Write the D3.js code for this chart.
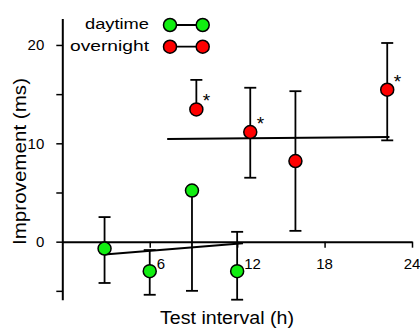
<!DOCTYPE html>
<html>
<head>
<meta charset="utf-8">
<script src="https://cdn.jsdelivr.net/npm/d3@7"></script>
<style>
  body { margin: 0; background: #fff; }
  text { font-family: "Liberation Sans", Arial, Helvetica, sans-serif; fill: #000; }
</style>
</head>
<body>
<svg width="420" height="330"></svg>
<script>
// daytime (green) group
var dayHours = [2.9, 6.0, 8.9, 12.0];
var dayMean = [-0.7, -3.0, 5.2, -3.0];
var dayUpper = [2.5, -0.85, null, 1.0];
var dayLower = [-4.2, -5.4, -5.0, -5.9];
var dayStars = ['', '', '', ''];

// overnight (red) group
var nightHours = [9.2, 12.9, 16.0, 22.3];
var nightMean = [13.45, 11.15, 8.2, 15.45];
var nightUpper = [16.45, 15.65, 15.3, 20.2];
var nightLower = [null, 6.5, 1.1, 10.3];
var nightStars = ['*', '*', '', '*'];

// fitted lines
var dayFitHours = [2.9, 12.4];
var dayFitValues = [-1.3, -0.15];
var nightFitHours = [7.2, 22.45];
var nightFitValues = [10.45, 10.65];

var xTicks = [6, 12, 18, 24];
var yTicks = [-5, 0, 5, 10, 15, 20];
var yTickLabels = ['', '0', '', '10', '', '20'];

var groups = [
    { name: 'daytime', color: '#11ee11', hours: dayHours, mean: dayMean, upper: dayUpper, lower: dayLower, stars: dayStars, fitX: dayFitHours, fitY: dayFitValues },
    { name: 'overnight', color: '#ff0000', hours: nightHours, mean: nightMean, upper: nightUpper, lower: nightLower, stars: nightStars, fitX: nightFitHours, fitY: nightFitValues }
];

var svg = d3.select('svg');
var r = 6.5;
var cap = 6;

var x = d3.scaleLinear().domain([0, 24]).range([62.3, 412]);
var y = d3.scaleLinear().domain([-5.9, 22.7]).range([299.7, 18.4]);

// y axis
var yAxis = svg.append('g')
    .attr('transform', 'translate(' + x(0) + ',0)')
    .call(d3.axisLeft(y).tickValues(yTicks).tickSize(6).tickSizeOuter(0)
        .tickFormat(function (d, i) { return yTickLabels[i]; }));
yAxis.select('.domain').attr('stroke-width', 2);
yAxis.selectAll('.tick line').attr('stroke-width', 1.5);
yAxis.selectAll('.tick text')
    .attr('x', -18)
    .style('font-size', '15px')
    .style('font-family', '"Liberation Sans", Arial, sans-serif');

// x axis sits at zero
var xAxis = svg.append('g')
    .attr('transform', 'translate(0,' + y(0) + ')')
    .call(d3.axisBottom(x).tickValues(xTicks).tickSize(6).tickSizeOuter(0).tickFormat(''));
xAxis.select('.domain').attr('stroke-width', 2);
xAxis.selectAll('.tick line').attr('stroke-width', 1.5);

// tick labels (6 and 12 are pushed right of their ticks)
svg.selectAll('.xlab')
    .data(xTicks)
    .enter()
    .append('text')
    .attr('class', 'xlab')
    .attr('x', function (d) { return d <= 12 ? x(d) + 7 : x(d); })
    .attr('y', y(0) + 27.5)
    .style('text-anchor', function (d) { return d <= 12 ? 'start' : 'middle'; })
    .style('font-size', '15px')
    .text(function (d) { return d; });

// axis titles
svg.append('text')
    .attr('x', 227)
    .attr('y', 324)
    .style('text-anchor', 'middle')
    .style('font-size', '17.5px')
    .attr('textLength', 134)
    .attr('lengthAdjust', 'spacingAndGlyphs')
    .text('Test interval (h)');

svg.append('text')
    .attr('transform', 'translate(26,161.5) rotate(-90)')
    .style('text-anchor', 'middle')
    .style('font-size', '17.5px')
    .attr('textLength', 167)
    .attr('lengthAdjust', 'spacingAndGlyphs')
    .text('Improvement (ms)');

groups.forEach(function (g) {
    var pts = g.hours.map(function (h, i) {
        return { h: h, m: g.mean[i], up: g.upper[i], lo: g.lower[i], star: g.stars[i] };
    });

    // fitted line
    svg.append('line')
        .attr('x1', x(g.fitX[0])).attr('y1', y(g.fitY[0]))
        .attr('x2', x(g.fitX[1])).attr('y2', y(g.fitY[1]))
        .attr('stroke', '#000')
        .attr('stroke-width', 2);

    var bars = svg.append('g').attr('stroke', '#000').attr('stroke-width', 1.8);
    pts.forEach(function (d) {
        [d.up, d.lo].forEach(function (v) {
            if (v === null) return;
            bars.append('line')
                .attr('x1', x(d.h)).attr('x2', x(d.h))
                .attr('y1', y(d.m)).attr('y2', y(v));
            bars.append('line')
                .attr('x1', x(d.h) - cap).attr('x2', x(d.h) + cap)
                .attr('y1', y(v)).attr('y2', y(v));
        });
    });

    svg.selectAll('.dot-' + g.name)
        .data(pts)
        .enter()
        .append('circle')
        .attr('cx', function (d) { return x(d.h); })
        .attr('cy', function (d) { return y(d.m); })
        .attr('r', r)
        .attr('fill', g.color)
        .attr('stroke', '#000')
        .attr('stroke-width', 1.5);

    svg.selectAll('.star-' + g.name)
        .data(pts.filter(function (d) { return d.star; }))
        .enter()
        .append('text')
        .attr('x', function (d) { return x(d.h) + 6.5; })
        .attr('y', function (d) { return y(d.m) - 2; })
        .style('font-size', '19px')
        .text(function (d) { return d.star; });
});

// legend
var legend = svg.selectAll('.legend')
    .data(groups)
    .enter()
    .append('g')
    .attr('transform', function (d, i) { return 'translate(0,' + (25 + i * 21.7) + ')'; });

legend.append('text')
    .attr('x', 149)
    .attr('y', 4)
    .style('text-anchor', 'end')
    .style('font-size', '15.5px')
    .attr('textLength', function (d) { return d.name === 'daytime' ? 64 : 79; })
    .attr('lengthAdjust', 'spacingAndGlyphs')
    .text(function (d) { return d.name; });

legend.append('line')
    .attr('x1', 170).attr('x2', 202.7)
    .attr('stroke', '#000')
    .attr('stroke-width', 1.8);

legend.selectAll('circle')
    .data(function (d) { return [d, d]; })
    .enter()
    .append('circle')
    .attr('cx', function (d, i) { return i === 0 ? 170 : 202.7; })
    .attr('r', r)
    .attr('fill', function (d) { return d.color; })
    .attr('stroke', '#000')
    .attr('stroke-width', 1.5);
</script>
</body>
</html>
